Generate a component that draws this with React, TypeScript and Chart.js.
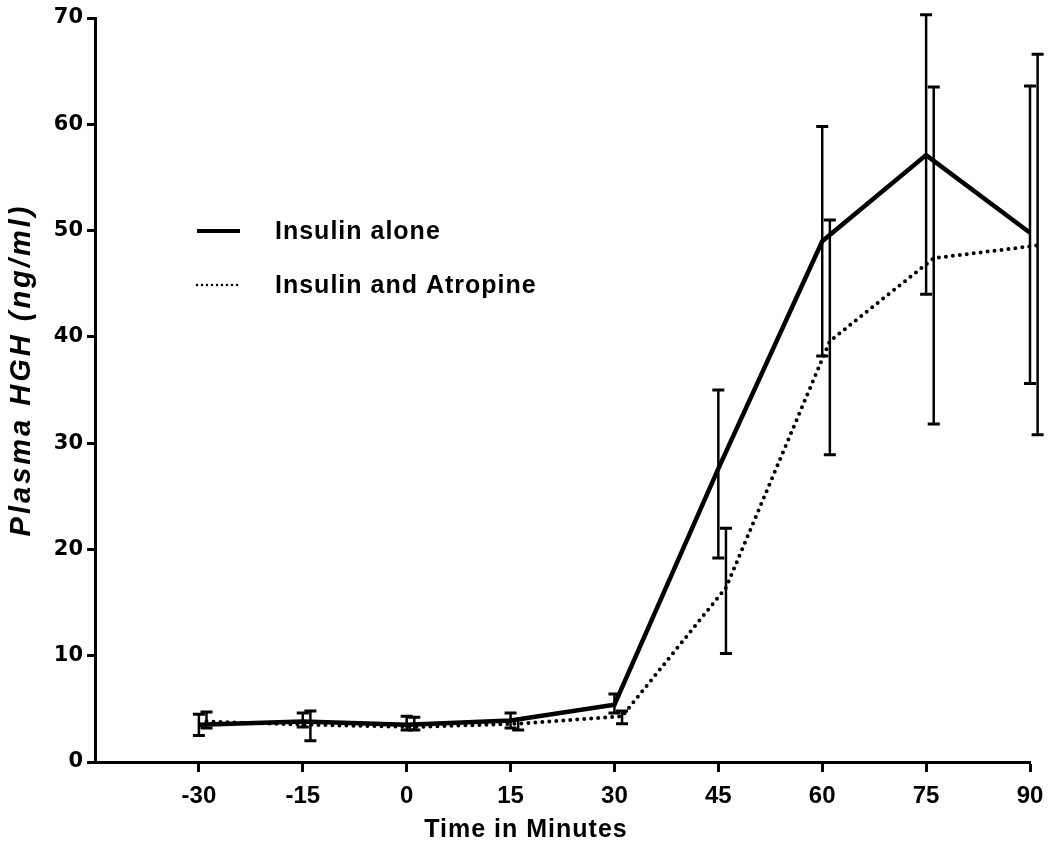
import React, { useEffect, useRef } from "react";
import { Chart, registerables } from "chart.js";

Chart.register(...registerables);

const times = [-30, -15, 0, 15, 30, 45, 60, 75, 90];
const atropineTimes = [-28.9, -13.9, 1.1, 16.1, 31.1, 46.1, 61.1, 76.1, 91.1];
const xTickValues = [-30, -15, 0, 15, 30, 45, 60, 75, 90];

const insulinAlone = [3.5, 3.8, 3.5, 3.9, 5.4, 27.6, 49.0, 57.1, 49.8];
const insulinAloneLow = [2.5, 3.3, 3.0, 3.2, 4.6, 19.2, 38.2, 44.0, 35.6];
const insulinAloneHigh = [4.5, 4.6, 4.3, 4.6, 6.4, 35.0, 59.8, 70.3, 63.6];

const atropine = [3.8, 3.5, 3.3, 3.6, 4.3, 16.4, 39.6, 47.4, 48.6];
const atropineLow = [3.2, 2.0, 3.0, 3.0, 3.6, 10.2, 28.9, 31.8, 30.8];
const atropineHigh = [4.7, 4.8, 4.2, 4.0, 4.8, 22.0, 51.0, 63.5, 66.6];

const seriesLabels = ["Insulin alone", "Insulin and Atropine"];
const xTitle = "Time in Minutes";
const yTitle = "Plasma HGH (ng/ml)";

const errorBarPlugin = {
  id: "errorBars",
  afterDatasetsDraw(chart: any) {
    const ctx = chart.ctx;
    const xs = chart.scales.x;
    const ys = chart.scales.y;
    chart.data.datasets.forEach((ds: any) => {
      if (!ds.errLow) return;
      ctx.save();
      ctx.strokeStyle = "#000";
      ds.data.forEach((p: any, i: number) => {
        const px = xs.getPixelForValue(p.x);
        const lo = ys.getPixelForValue(ds.errLow[i]);
        const hi = ys.getPixelForValue(ds.errHigh[i]);
        ctx.lineWidth = 2.5;
        ctx.beginPath();
        ctx.moveTo(px, lo);
        ctx.lineTo(px, hi);
        ctx.stroke();
        ctx.lineWidth = 3;
        ctx.beginPath();
        ctx.moveTo(px - 6, lo);
        ctx.lineTo(px + 6, lo);
        ctx.moveTo(px - 6, hi);
        ctx.lineTo(px + 6, hi);
        ctx.stroke();
      });
      ctx.restore();
    });
  },
};

const decorPlugin = {
  id: "decor",
  afterDraw(chart: any) {
    const ctx = chart.ctx;
    ctx.save();
    // legend
    ctx.strokeStyle = "#000";
    ctx.fillStyle = "#000";
    ctx.lineWidth = 4;
    ctx.beginPath();
    ctx.moveTo(197, 231);
    ctx.lineTo(240, 231);
    ctx.stroke();
    ctx.lineWidth = 2.5;
    ctx.lineCap = "round";
    ctx.setLineDash([0, 5]);
    ctx.beginPath();
    ctx.moveTo(197, 285);
    ctx.lineTo(240, 285);
    ctx.stroke();
    ctx.setLineDash([]);
    ctx.font = "bold 25px 'Liberation Sans', sans-serif";
    (ctx as any).letterSpacing = "1px";
    ctx.textBaseline = "middle";
    ctx.textAlign = "left";
    ctx.fillText(chart.data.datasets[0].label, 275, 232);
    ctx.fillText(chart.data.datasets[1].label, 275, 286);
    // x title
    ctx.textAlign = "center";
    ctx.fillText(xTitle, 526, 830);
    // y title
    ctx.translate(22, 370);
    ctx.rotate(-Math.PI / 2);
    ctx.font = "italic bold 29px 'Liberation Sans', sans-serif";
    (ctx as any).letterSpacing = "3px";
    ctx.fillText(yTitle, 0, 0);
    ctx.restore();
  },
};

export default function App() {
  const ref = useRef<HTMLCanvasElement | null>(null);
  useEffect(() => {
    if (!ref.current) return;
    const chart = new Chart(ref.current, {
      type: "line",
      data: {
        datasets: [
          {
            label: seriesLabels[0],
            data: times.map((t, i) => ({ x: t, y: insulinAlone[i] })),
            borderColor: "#000",
            borderWidth: 4.5,
            pointRadius: 0,
            tension: 0,
            clip: false,
            errLow: insulinAloneLow,
            errHigh: insulinAloneHigh,
          } as any,
          {
            label: seriesLabels[1],
            data: atropineTimes.map((t, i) => ({ x: t, y: atropine[i] })),
            borderColor: "#000",
            borderWidth: 4,
            borderDash: [0, 7],
            borderCapStyle: "round",
            pointRadius: 0,
            tension: 0,
            clip: false,
            errLow: atropineLow,
            errHigh: atropineHigh,
          } as any,
        ],
      },
      options: {
        animation: false,
        responsive: true,
        maintainAspectRatio: false,
        layout: { padding: { top: 18, right: 33, left: 0, bottom: 0 } },
        plugins: { legend: { display: false }, tooltip: { enabled: false } },
        scales: {
          x: {
            type: "linear",
            min: -45,
            max: 90,
            afterBuildTicks: (scale: any) => {
              scale.ticks = xTickValues.map((v) => ({ value: v }));
            },
            afterFit: (scale: any) => {
              scale.height = 83;
            },
            ticks: {
              color: "#000",
              font: { family: "'Liberation Sans', sans-serif", weight: "bold", size: 24 },
              padding: 10,
              maxRotation: 0,
              autoSkip: false,
            },
            grid: {
              drawOnChartArea: false,
              drawTicks: true,
              tickLength: 10,
              tickWidth: 3,
              tickColor: "#000",
            },
            border: { display: true, color: "#000", width: 3 },
          },
          y: {
            min: 0,
            max: 70,
            afterFit: (scale: any) => {
              scale.width = 95;
            },
            ticks: {
              stepSize: 10,
              color: "#000",
              font: { family: "'DejaVu Sans', sans-serif", weight: "bold", size: 21 },
              padding: 4,
            },
            grid: {
              drawOnChartArea: false,
              drawTicks: true,
              tickLength: 8,
              tickWidth: 3,
              tickColor: "#000",
            },
            border: { display: true, color: "#000", width: 3 },
          },
        },
      },
      plugins: [errorBarPlugin, decorPlugin],
    });
    return () => chart.destroy();
  }, []);
  return (
    <div style={{ position: "absolute", left: 0, top: 0, width: 1063, height: 845 }}>
      <canvas ref={ref} />
    </div>
  );
}
